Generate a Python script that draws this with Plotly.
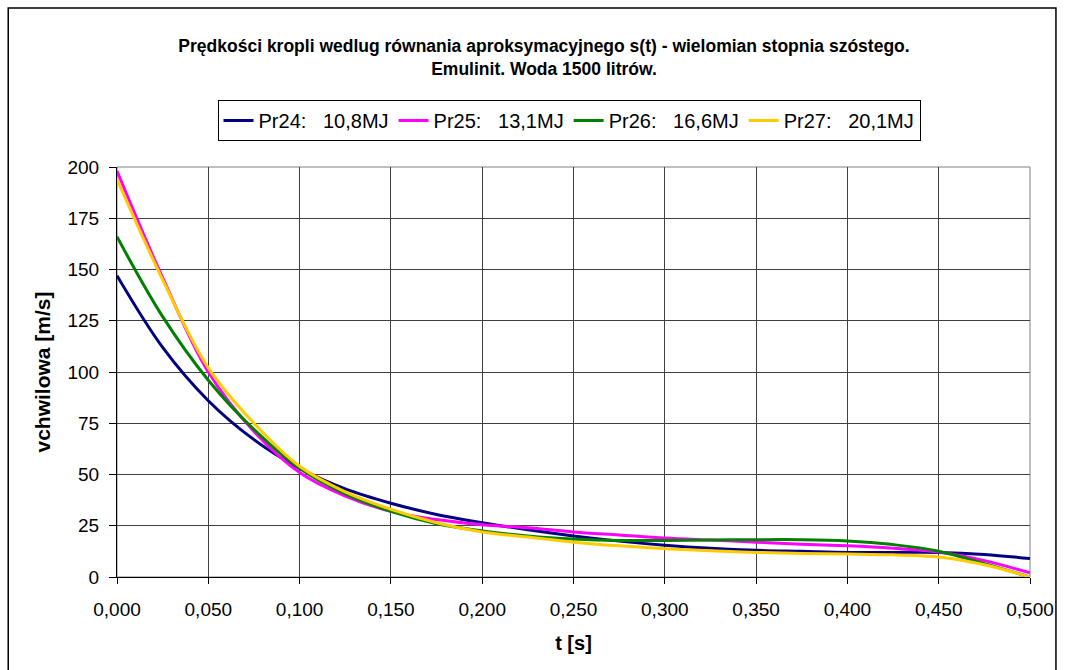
import plotly.graph_objects as go

t = [0.000, 0.025, 0.050, 0.075, 0.100, 0.125, 0.150, 0.175, 0.200, 0.225, 0.250,
     0.275, 0.300, 0.325, 0.350, 0.375, 0.400, 0.425, 0.450, 0.475, 0.500]

pr24 = [147, 112, 86, 67, 53, 43, 36, 30.5, 26.5, 23, 20, 17.5, 15.5, 14, 13, 12.5, 12, 12, 12, 11, 9]
pr25 = [198, 146, 100, 71, 51, 39.5, 32, 28, 25.5, 24, 22, 20.5, 19, 18, 17, 16, 15.2, 14, 12.2, 8, 2]
pr26 = [166, 127, 96, 72, 53, 40.5, 32, 26, 22.5, 20, 18.5, 17.8, 17.8, 18, 18.2, 18.2, 17.6, 15.8, 12.6, 6.5, 0]
pr27 = [194, 145, 102, 75, 54, 41.5, 33, 26.5, 22, 19.5, 17, 15.2, 13.8, 12.8, 12, 11.5, 11.2, 10.8, 9.8, 6, 0]

names = ["Pr24:\u00a0\u00a0\u00a010,8MJ", "Pr25:\u00a0\u00a0\u00a013,1MJ",
         "Pr26:\u00a0\u00a0\u00a016,6MJ", "Pr27:\u00a0\u00a0\u00a020,1MJ"]
colors = ["#000080", "#FF00FF", "#008000", "#FFCC00"]
series = [pr24, pr25, pr26, pr27]

x_ticks = [0.0, 0.05, 0.1, 0.15, 0.2, 0.25, 0.3, 0.35, 0.4, 0.45, 0.5]
y_ticks = [0, 25, 50, 75, 100, 125, 150, 175, 200]

FONT = "Liberation Sans, Arial, sans-serif"

fig = go.Figure()
for name, col, ys in zip(names, colors, series):
    fig.add_trace(go.Scatter(x=t, y=ys, mode="lines", name=name,
                             line=dict(color=col, width=3, shape="spline", smoothing=1.0)))

W, H = 1066, 670
L, R, T, B = 117, 1032, 167, 577

fig.update_layout(
    width=W, height=H,
    margin=dict(l=L, r=W - R, t=T, b=H - B),
    paper_bgcolor="white", plot_bgcolor="white",
    separators=", ",
    font=dict(family=FONT, color="black", size=18),
    title=dict(text="<b>Prędkości kropli wedlug równania aproksymacyjnego s(t) - wielomian stopnia szóstego.<br>Emulinit. Woda 1500 litrów.</b>",
               x=544 / W, xanchor="center", y=1 - 52 / H, yanchor="top",
               font=dict(family=FONT, size=17.5, color="black")),
    legend=dict(orientation="h", x=(570 - L) / (R - L), xanchor="center",
                y=(B - 100) / (B - T), yanchor="top",
                bordercolor="black", borderwidth=1, bgcolor="white",
                font=dict(family=FONT, size=20, color="black"),
                itemwidth=30, tracegroupgap=0),
    showlegend=True,
    xaxis=dict(range=[0, 0.5], tickvals=x_ticks, tickformat=".3f",
               showgrid=True, gridcolor="#404040", gridwidth=1,
               showline=True, linecolor="black", linewidth=1, mirror=False,
               ticks="outside", ticklen=6, tickcolor="black",
               ticklabelstandoff=9, zeroline=False,
               tickfont=dict(family=FONT, size=19, color="black"),
               title=dict(text="<b>t [s]</b>", font=dict(family=FONT, size=20, color="black"), standoff=17)),
    yaxis=dict(range=[0, 200], tickvals=y_ticks,
               showgrid=True, gridcolor="#404040", gridwidth=1,
               showline=True, linecolor="black", linewidth=1,
               ticks="outside", ticklen=7, tickcolor="black",
               ticklabelstandoff=6, zeroline=False,
               tickfont=dict(family=FONT, size=19, color="black"),
               title=dict(text="<b>vchwilowa [m/s]</b>", font=dict(family=FONT, size=21, color="black"), standoff=11)),
)

# outer chart border
fig.add_shape(type="rect", xref="paper", yref="paper",
              x0=(8 - L) / (R - L), x1=(1058 - L) / (R - L),
              y0=(B - 690) / (B - T), y1=(B - 8) / (B - T),
              line=dict(color="black", width=1.5), fillcolor="rgba(0,0,0,0)", layer="below")
# plot area frame (top/right)
fig.add_shape(type="rect", xref="paper", yref="paper", x0=0, x1=1, y0=0, y1=1,
              line=dict(color="#808080", width=1), fillcolor="rgba(0,0,0,0)", layer="below")

fig.write_html("out.html")
